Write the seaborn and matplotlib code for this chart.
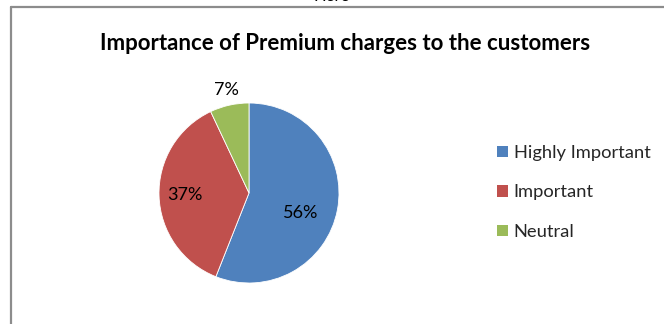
import numpy as np
import matplotlib
matplotlib.use("Agg")
import matplotlib.pyplot as plt
import seaborn as sns
from matplotlib.patches import Rectangle
from matplotlib.lines import Line2D

categories = ["Highly Important", "Important", "Neutral"]
values = [56, 37, 7]
title = "Importance of Premium charges to the customers"

sns.set_theme(style="white")
plt.rcParams['font.family'] = ['Lato', 'DejaVu Sans']
colors = sns.color_palette(["#4F81BD", "#C0504D", "#9BBB59"])

W, H = 664, 324
fig = plt.figure(figsize=(W / 100, H / 100), dpi=100)

# outer frame (partially cut by the image edge)
fig.add_artist(Line2D([10.5 / W, 10.5 / W], [0, 1 - 6.5 / H], color="#8c8c8c", lw=1.6,
                      transform=fig.transFigure))
fig.add_artist(Line2D([10.5 / W, 1], [1 - 6.5 / H, 1 - 6.5 / H], color="#8c8c8c", lw=1.6,
                      transform=fig.transFigure))
# cut-off caption above the frame
fig.text(0.5, 1 - 4 / H, "Here", ha="center", va="bottom", fontsize=12, color="black")

fig.text(345 / W, 1 - 44 / H, title, ha="center", va="center", fontsize=16,
         fontweight="bold", color="black")

cx, cy, r = 249, 193, 90
ax = fig.add_axes([(cx - r) / W, (H - cy - r) / H, 2 * r / W, 2 * r / H])
wedges, _ = ax.pie(values, colors=colors, startangle=90, counterclock=False,
                   wedgeprops=dict(edgecolor="white", linewidth=0.6))
ax.set_xlim(-1, 1)
ax.set_ylim(-1, 1)
ax.set_aspect("equal")
ax.axis("off")

label_r = [0.62, 0.71, 1.17]
label_off = [-10, 0, 0]
for w, v, lr, off in zip(wedges, values, label_r, label_off):
    ang = np.deg2rad((w.theta1 + w.theta2) / 2 + off)
    ax.text(lr * np.cos(ang), lr * np.sin(ang), f"{v}%", ha="center", va="center",
            fontsize=13, color="black", clip_on=False)

handles = [Rectangle((0, 0), 1, 1, facecolor=c, edgecolor="none") for c in colors]
fig.legend(handles, categories, loc="upper left", bbox_to_anchor=(497 / W, 1 - 145 / H),
           frameon=False, fontsize=13.2, handlelength=0.6, handleheight=0.6,
           handletextpad=0.3, labelspacing=1.28, borderaxespad=0, borderpad=0)

fig.savefig("out.png", dpi=100, facecolor="white")
